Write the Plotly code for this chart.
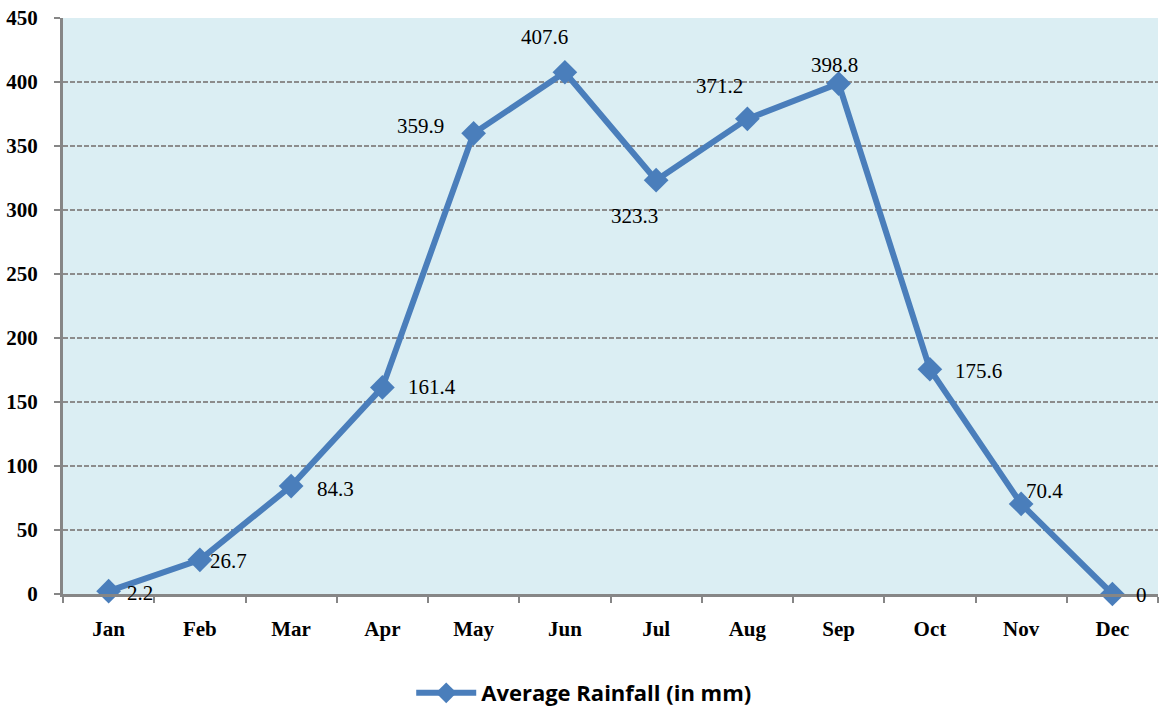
import plotly.graph_objects as go

months = ["Jan", "Feb", "Mar", "Apr", "May", "Jun", "Jul", "Aug", "Sep", "Oct", "Nov", "Dec"]
rainfall = [2.2, 26.7, 84.3, 161.4, 359.9, 407.6, 323.3, 371.2, 398.8, 175.6, 70.4, 0]
labels = ["2.2", "26.7", "84.3", "161.4", "359.9", "407.6", "323.3", "371.2", "398.8", "175.6", "70.4", "0"]
series_name = "Average Rainfall (in mm)"

# label offsets in pixels (style only)
label_dx = [31, 29, 44, 50, -53, -20, -22, -28, -4, 49, 23, 29]
label_dy = [-2, -1, -3, 0, 7, 35, -36, 33, 19, -2, 13, -1]

LINE = "#4A7EBB"

fig = go.Figure()
fig.add_trace(go.Scatter(
    x=months, y=rainfall, mode="lines+markers", name=series_name,
    line=dict(color=LINE, width=6),
    marker=dict(symbol="diamond", size=19, color=LINE),
    cliponaxis=False,
))

for m, v, t, dx, dy in zip(months, rainfall, labels, label_dx, label_dy):
    fig.add_annotation(x=m, y=v, text=t, showarrow=False, xanchor="center", yanchor="middle",
                       xshift=dx, yshift=dy,
                       font=dict(family="Liberation Serif", size=21, color="#000000"))

fig.update_layout(
    width=1159, height=711,
    margin=dict(l=63, r=1, t=18, b=117, autoexpand=False),
    paper_bgcolor="#FFFFFF",
    plot_bgcolor="#DBEEF3",
    showlegend=True,
    legend=dict(orientation="h", x=0.476, xanchor="center", y=-0.172, yanchor="middle",
                font=dict(family="Open Sans", size=22, color="#000000", weight="bold"),
                itemwidth=60),
    xaxis=dict(
        type="category", range=[-0.5, 11.5], automargin=False,
        showgrid=False, showline=True, linecolor="#868686", linewidth=3,
        ticks="outside", tickson="boundaries", ticklen=6, tickwidth=2, tickcolor="#868686",
        tickfont=dict(family="Liberation Serif", size=21, color="#000000", weight="bold"),
        ticklabelstandoff=14,
    ),
    yaxis=dict(
        range=[0, 450], dtick=50, tick0=0, automargin=False,
        showgrid=True, gridcolor="#8C8C8C", griddash="5px,2px", gridwidth=2,
        showline=True, linecolor="#868686", linewidth=3,
        ticks="outside", ticklen=6, tickwidth=2, tickcolor="#868686",
        tickfont=dict(family="Liberation Serif", size=21, color="#000000", weight="bold"),
        zeroline=False, ticklabelstandoff=12,
    ),
)

fig.write_html("out.html", config={"displayModeBar": False},
               post_script="document.body.style.margin='0';document.body.style.overflow='hidden';")
